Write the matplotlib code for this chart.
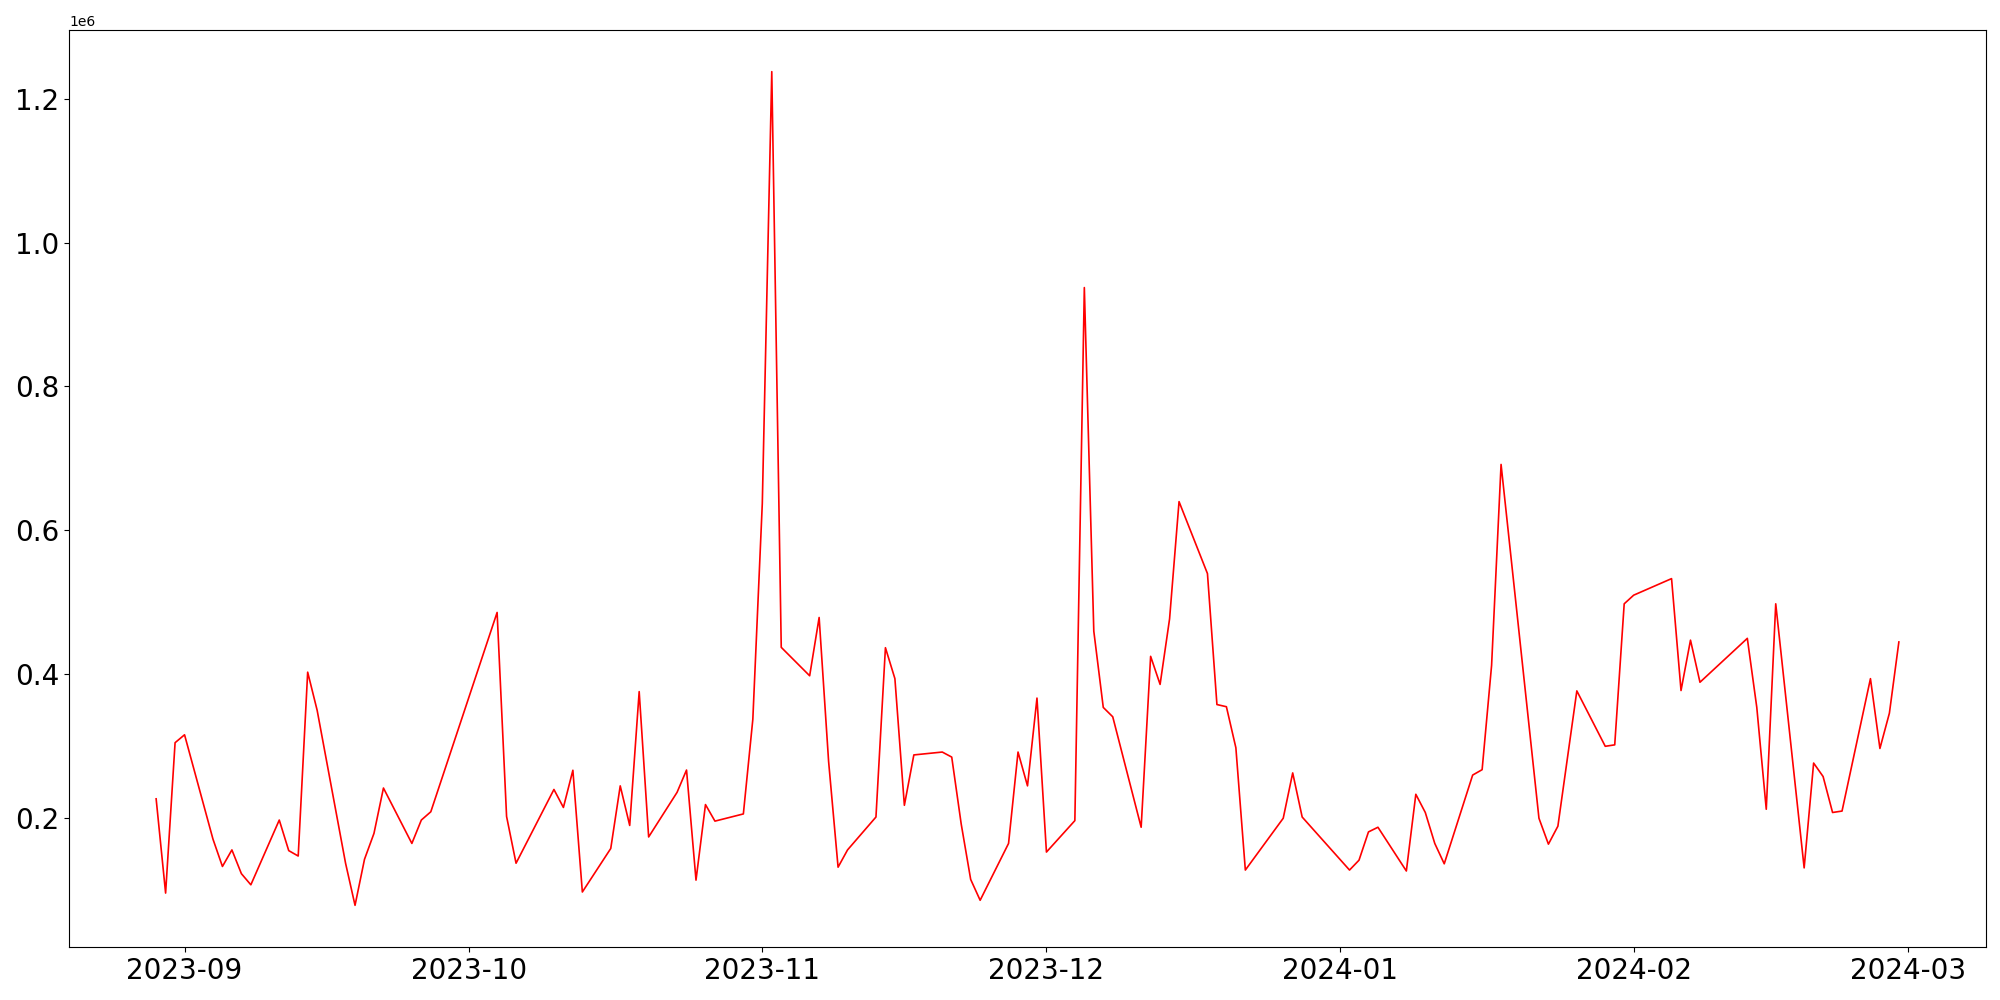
import matplotlib
matplotlib.use("Agg")
import matplotlib.pyplot as plt
import pandas as pd

dates = [
    "2023-08-29", "2023-08-30", "2023-08-31", "2023-09-01", "2023-09-04", "2023-09-05",
    "2023-09-06", "2023-09-07", "2023-09-08", "2023-09-11", "2023-09-12", "2023-09-13",
    "2023-09-14", "2023-09-15", "2023-09-18", "2023-09-19", "2023-09-20", "2023-09-21",
    "2023-09-22", "2023-09-25", "2023-09-26", "2023-09-27", "2023-10-04", "2023-10-05",
    "2023-10-06", "2023-10-10", "2023-10-11", "2023-10-12", "2023-10-13", "2023-10-16",
    "2023-10-17", "2023-10-18", "2023-10-19", "2023-10-20", "2023-10-23", "2023-10-24",
    "2023-10-25", "2023-10-26", "2023-10-27", "2023-10-30", "2023-10-31", "2023-11-01",
    "2023-11-02", "2023-11-03", "2023-11-06", "2023-11-07", "2023-11-08", "2023-11-09",
    "2023-11-10", "2023-11-13", "2023-11-14", "2023-11-15", "2023-11-16", "2023-11-17",
    "2023-11-20", "2023-11-21", "2023-11-22", "2023-11-23", "2023-11-24", "2023-11-27",
    "2023-11-28", "2023-11-29", "2023-11-30", "2023-12-01", "2023-12-04", "2023-12-05",
    "2023-12-06", "2023-12-07", "2023-12-08", "2023-12-11", "2023-12-12", "2023-12-13",
    "2023-12-14", "2023-12-15", "2023-12-18", "2023-12-19", "2023-12-20", "2023-12-21",
    "2023-12-22", "2023-12-26", "2023-12-27", "2023-12-28", "2024-01-02", "2024-01-03",
    "2024-01-04", "2024-01-05", "2024-01-08", "2024-01-09", "2024-01-10", "2024-01-11",
    "2024-01-12", "2024-01-15", "2024-01-16", "2024-01-17", "2024-01-18", "2024-01-22",
    "2024-01-23", "2024-01-24", "2024-01-26", "2024-01-29", "2024-01-30", "2024-01-31",
    "2024-02-01", "2024-02-05", "2024-02-06", "2024-02-07", "2024-02-08", "2024-02-13",
    "2024-02-14", "2024-02-15", "2024-02-16", "2024-02-19", "2024-02-20", "2024-02-21",
    "2024-02-22", "2024-02-23", "2024-02-26", "2024-02-27", "2024-02-28", "2024-02-29",
]

volume = [
    227000, 96000, 305000, 316000, 171000, 133000,
    156000, 123000, 107500, 197500, 155000, 147500,
    403000, 350000, 137500, 79000, 143000, 179000,
    242000, 165000, 197500, 209000, 486000, 202500,
    137500, 240000, 215000, 266700, 97500, 158000,
    245000, 190000, 376000, 174000, 236000, 267000,
    114000, 219000, 196000, 206000, 337500, 637500,
    1237500, 437500, 398000, 479000, 279000, 132000,
    156000, 201700, 437000, 394000, 218000, 288000,
    292000, 285000, 192000, 115000, 86000, 165000,
    292000, 245000, 367000, 153000, 196700, 937500,
    460000, 354000, 341000, 187500, 425000, 386000,
    477000, 640000, 540000, 358000, 355000, 298000,
    128000, 200000, 263000, 201700, 128000, 141700,
    181000, 187500, 126700, 233300, 208000, 165000,
    136700, 260000, 267500, 412500, 691700, 200000,
    164000, 189000, 377000, 300000, 302000, 498000,
    510000, 533000, 377500, 447500, 389000, 450000,
    354000, 212500, 498000, 131000, 276700, 258000,
    208000, 210000, 394000, 297000, 346000, 445000,
]

x = pd.to_datetime(dates)

fig = plt.figure(figsize=(20, 10), dpi=100)
ax = fig.add_axes([0.0345, 0.053, 0.9585, 0.917])
ax.plot(x, volume, color="red", linewidth=1.2)
ax.tick_params(axis="both", labelsize=20)
fig.savefig("out.png", dpi=100)
